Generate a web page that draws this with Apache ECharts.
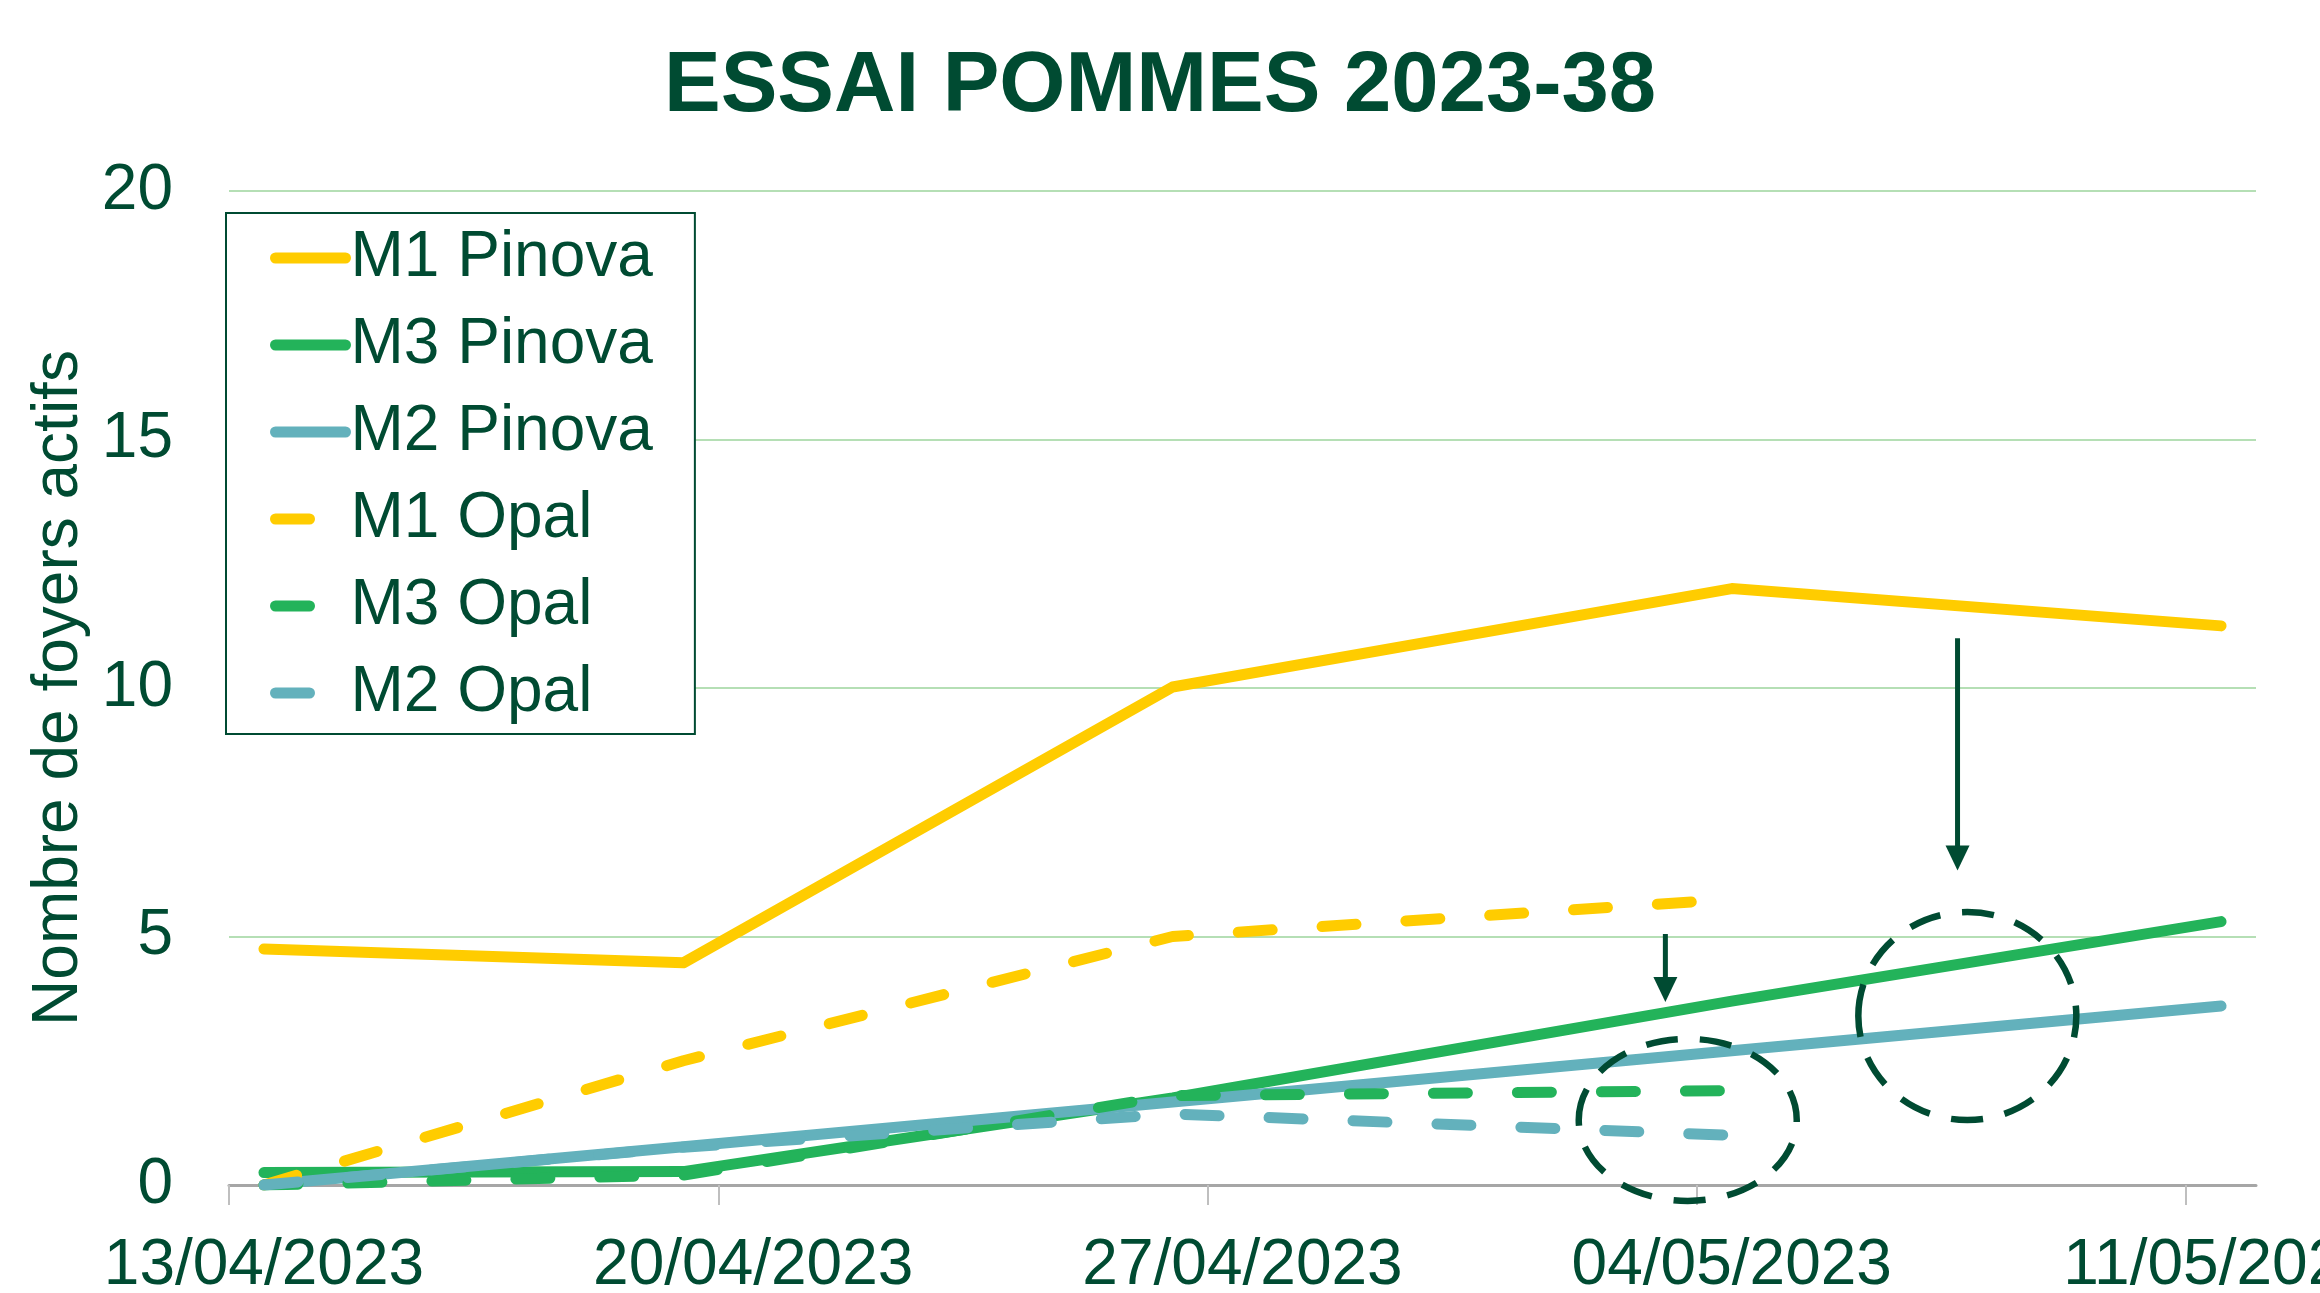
<!DOCTYPE html>
<html><head><meta charset="utf-8">
<script src="https://cdn.jsdelivr.net/npm/echarts@6/dist/echarts.min.js"></script>
<style>html,body{margin:0;padding:0;background:#fff}#c{width:2320px;height:1293px}</style>
</head><body><div id="c"></div>
<script>
// ---- data ----
const baseDate = '2023-04-13T00:00:00Z';
const dates = ['2023-04-13T12:00:00Z','2023-04-19T12:00:00Z','2023-04-26T12:00:00Z','2023-05-04T12:00:00Z','2023-05-11T12:00:00Z'];
const tickLabels = ['13/04/2023','20/04/2023','27/04/2023','04/05/2023','11/05/2023'];
const yTicks = [0, 5, 10, 15, 20];
const seriesNames = ['M1 Pinova','M3 Pinova','M2 Pinova','M1 Opal','M3 Opal','M2 Opal'];
const m1Pinova = [4.75, 4.47, 10.02, 12.0, 11.25];
const m3Pinova = [0.25, 0.27, 1.75, 3.7, 5.3];
const m2Pinova = [0, 0.77, 1.67, 2.7, 3.6];
const m1Opal = [0, 2.5, 5.0, 5.75];
const m3Opal = [0, 0.2, 1.8, 1.9];
const m2Opal = [0, 0.76, 1.43, 1.0];

const DAY = 86400000;
const dayOf = d => (Date.parse(d) - Date.parse(baseDate)) / DAY;
const xDays = dates.map(dayOf);
const pts = vals => vals.map((v, i) => [xDays[i], v]);

const DK = '#004B32';
const YEL = '#FFCC00', GRN = '#23B35A', BLU = '#63B1BC';
const FONT = '"Liberation Sans", Arial, sans-serif';
const LW = 11;
const DASH = [34, 50];

function mk(name, vals, color, dashed) {
  return {
    name, type: 'line', data: pts(vals), symbol: 'none', silent: true,
    lineStyle: { color, width: LW, type: dashed ? DASH : 'solid', cap: 'round', join: 'round' },
    itemStyle: { color }
  };
}

const chart = echarts.init(document.getElementById('c'), null, { renderer: 'canvas' });
const tickVals = tickLabels.map((_, i) => i * 7);
// Date labels sit in the middle of their day cell (half a day after the tick)
const labelVals = tickVals.map(v => v + 0.5);
chart.setOption({
  animation: false,
  backgroundColor: '#fff',
  title: {
    text: 'ESSAI POMMES 2023-38', left: 'center', top: 40,
    textStyle: { fontFamily: FONT, fontWeight: 'bold', fontSize: 85, color: DK }
  },
  grid: { left: 229, right: 64, top: 191, bottom: 108, containLabel: false, outerBoundsMode: 'none' },
  legend: {
    orient: 'vertical', left: 226, top: 213,
    padding: [13, 42, 9, 44], itemGap: 23, itemWidth: 70, itemHeight: 11,
    backgroundColor: '#fff', borderColor: DK, borderWidth: 2, borderRadius: 0,
    textStyle: { fontFamily: FONT, fontSize: 64, color: DK, lineHeight: 64 },
    lineStyle: { width: LW, cap: 'round' },
    itemStyle: { color: 'rgba(0,0,0,0)', borderWidth: 0, opacity: 0 },
    data: seriesNames
  },
  xAxis: {
    type: 'value', min: 0, max: 29, interval: 7,
    axisLine: { show: true, lineStyle: { color: '#A6A6A6', width: 3 } },
    axisTick: { show: true, length: 20, lineStyle: { color: '#BFBFBF', width: 2 }, customValues: tickVals },
    axisLabel: {
      customValues: labelVals, margin: 49, hideOverlap: false,
      fontFamily: FONT, fontSize: 64, color: DK,
      formatter: v => tickLabels[Math.floor(v / 7)] || ''
    },
    splitLine: { show: false }
  },
  yAxis: {
    type: 'value', min: 0, max: 20, interval: 5,
    name: 'Nombre de foyers actifs', nameLocation: 'middle', nameGap: 136,
    nameTextStyle: { fontFamily: FONT, fontSize: 64, color: DK },
    axisLine: { show: false }, axisTick: { show: false },
    axisLabel: { margin: 56, fontFamily: FONT, fontSize: 64, color: DK, formatter: v => yTicks.includes(v) ? String(v) : '' },
    splitLine: { show: true, lineStyle: { color: '#B5DFB5', width: 2 } }
  },
  series: [
    mk(seriesNames[0], m1Pinova, YEL, false),
    mk(seriesNames[1], m3Pinova, GRN, false),
    mk(seriesNames[2], m2Pinova, BLU, false),
    mk(seriesNames[3], m1Opal, YEL, true),
    mk(seriesNames[4], m3Opal, GRN, true),
    mk(seriesNames[5], m2Opal, BLU, true)
  ]
});

// ---- annotations (positioned in data space) ----
const arrows = [ { x: 20.55, y0: 5.05, y1: 3.68 }, { x: 24.73, y0: 11.0, y1: 6.33 } ];
const ellipses = [ { x: 20.87, y: 1.31, rx: 109, ry: 81 }, { x: 24.87, y: 3.4, rx: 109, ry: 104 } ];
const P = (x, y) => chart.convertToPixel({ gridIndex: 0 }, [x, y]);
const g = [];
arrows.forEach(a => {
  const p0 = P(a.x, a.y0), p1 = P(a.x, a.y1);
  const headH = 25, headW = 12;
  g.push({ type: 'line', z: 100, shape: { x1: p0[0], y1: p0[1], x2: p1[0], y2: p1[1] - headH + 2 },
           style: { stroke: DK, lineWidth: 5 } });
  g.push({ type: 'polygon', z: 100, shape: { points: [[p1[0] - headW, p1[1] - headH], [p1[0] + headW, p1[1] - headH], [p1[0], p1[1]]] },
           style: { fill: DK } });
});
ellipses.forEach(e => {
  const c = P(e.x, e.y);
  g.push({ type: 'ellipse', z: 100, shape: { cx: c[0], cy: c[1], rx: e.rx, ry: e.ry },
           style: { fill: 'none', stroke: DK, lineWidth: 6.5, lineDash: [32, 22] } });
});
chart.setOption({ graphic: g });
</script></body></html>
